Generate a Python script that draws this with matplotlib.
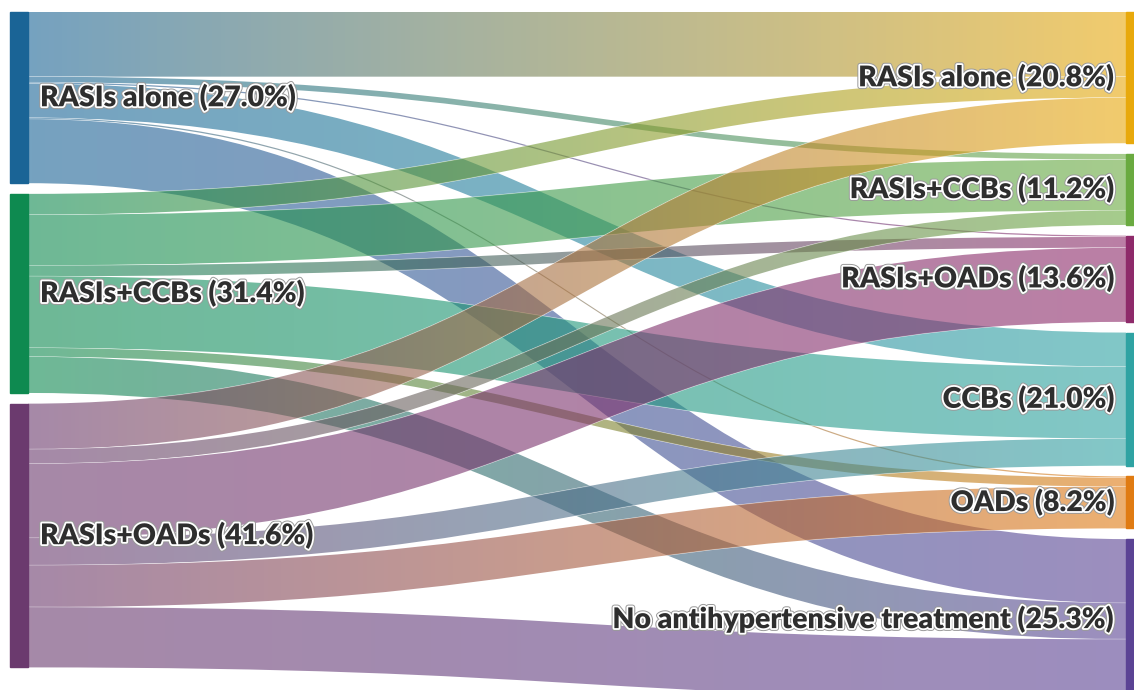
import numpy as np
import matplotlib
matplotlib.use("Agg")
import matplotlib.pyplot as plt
from matplotlib.path import Path
from matplotlib.patches import PathPatch, Rectangle
from matplotlib.colors import to_rgb
import matplotlib.patheffects as pe

# source / target nodes
left_labels = ["RASIs alone (27.0%)", "RASIs+CCBs (31.4%)", "RASIs+OADs (41.6%)"]
right_labels = ["RASIs alone (20.8%)", "RASIs+CCBs (11.2%)", "RASIs+OADs (13.6%)",
                "CCBs (21.0%)", "OADs (8.2%)", "No antihypertensive treatment (25.3%)"]
left_colors = ["#1a6496", "#0e8a50", "#6b3a6e"]
right_colors = ["#e8a90c", "#6aaa40", "#8e2a6a", "#2fa3a3", "#e07b12", "#5b4394"]

# flows (%), rows = source, columns = target
flows = np.array([
    [10.2, 0.9, 0.2, 5.4, 0.2, 10.1],
    [3.3, 8.0, 1.7, 11.3, 1.4, 5.7],
    [7.2, 2.3, 11.7, 4.3, 6.6, 9.5],
])

W, H = 1134, 690
scale = 6.34      # px per percent
pad = 10.7
top = 12
node_w = 18
xl, xr = 10, 1126

fig = plt.figure(figsize=(W / 100, H / 100), dpi=100)
ax = fig.add_axes([0, 0, 1, 1])
ax.set_xlim(0, W)
ax.set_ylim(H, 0)
ax.axis("off")


def stack(values):
    ys, y = [], top
    for v in values:
        ys.append(y)
        y += v * scale + pad
    return ys


left_y = stack(flows.sum(axis=1))
right_y = stack(flows.sum(axis=0))

x0, x1 = xl + node_w, xr
xm = (x0 + x1) / 2
src_off = list(left_y)
ribbons = []
for i in range(flows.shape[0]):
    for j in range(flows.shape[1]):
        h = flows[i, j] * scale
        ribbons.append([i, j, src_off[i], 0.0, h])
        src_off[i] += h
for j in range(flows.shape[1]):
    off = right_y[j]
    for r in ribbons:
        if r[1] == j:
            r[3] = off
            off += r[4]

grad_x = np.linspace(0, 1, 256)
for i, j, ys, yt, h in ribbons:
    verts = [(x0, ys), (xm, ys), (xm, yt), (x1, yt),
             (x1, yt + h), (xm, yt + h), (xm, ys + h), (x0, ys + h), (x0, ys)]
    codes = [Path.MOVETO, Path.CURVE4, Path.CURVE4, Path.CURVE4,
             Path.LINETO, Path.CURVE4, Path.CURVE4, Path.CURVE4, Path.CLOSEPOLY]
    patch = PathPatch(Path(verts, codes), facecolor="none", edgecolor="white",
                      lw=0.6, alpha=0.8)
    ax.add_patch(patch)
    c0, c1 = np.array(to_rgb(left_colors[i])), np.array(to_rgb(right_colors[j]))
    img = np.zeros((1, 256, 4))
    img[0, :, :3] = c0 + (c1 - c0) * grad_x[:, None]
    img[0, :, 3] = 0.6
    im = ax.imshow(img, extent=[x0, x1, H, 0], aspect="auto", zorder=1)
    im.set_clip_path(patch)

halo = [pe.withStroke(linewidth=4, foreground="#9a9a9a"),
        pe.withStroke(linewidth=2.6, foreground="white")]
font = dict(fontsize=20.5, fontweight="heavy", family="Lato", color="#2e2e2e",
            path_effects=halo, zorder=5)
for k, lab in enumerate(left_labels):
    h = flows[k].sum() * scale
    ax.add_patch(Rectangle((xl, left_y[k]), node_w, h, color=left_colors[k], zorder=3))
    ax.text(xl + node_w + 12, left_y[k] + h / 2, lab, ha="left", va="center", **font)
for k, lab in enumerate(right_labels):
    h = flows[:, k].sum() * scale
    ax.add_patch(Rectangle((xr, right_y[k]), node_w, h, color=right_colors[k], zorder=3))
    ax.text(xr - 11, right_y[k] + h / 2, lab, ha="right", va="center", **font)

fig.savefig("out.png", dpi=100)
